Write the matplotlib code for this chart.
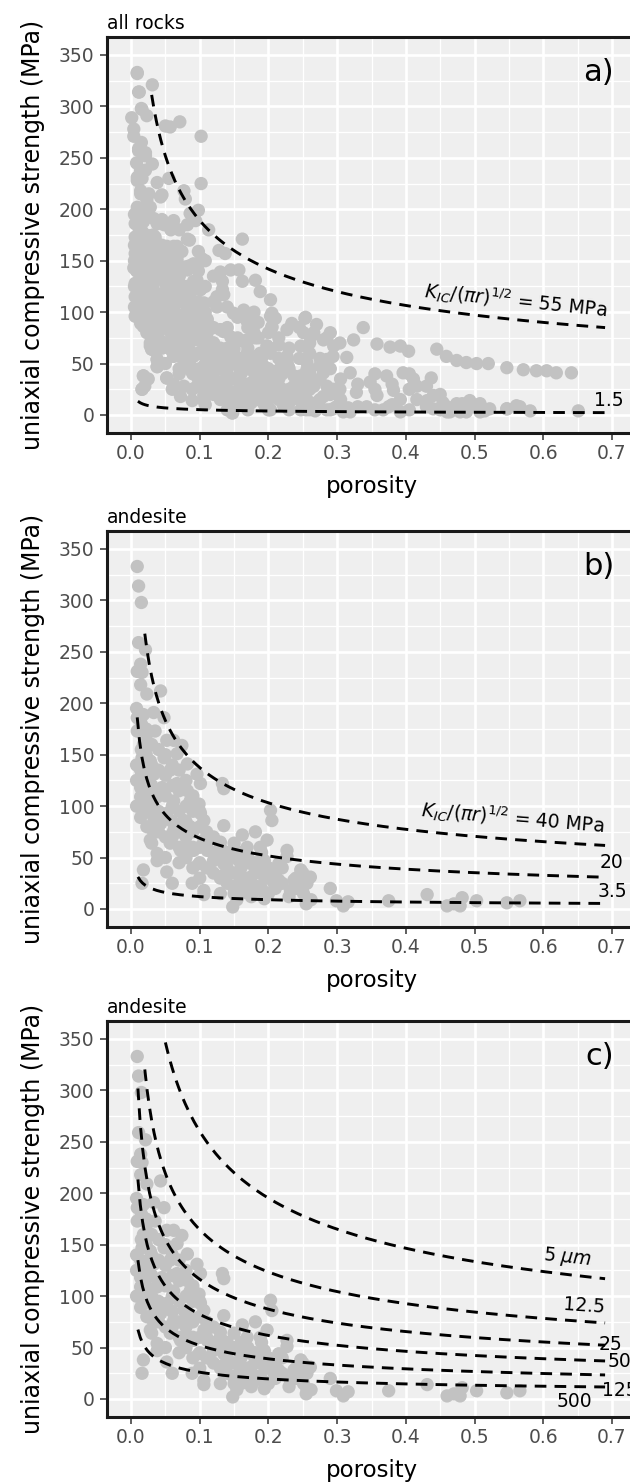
import numpy as np
import matplotlib.pyplot as plt

plt.rcParams['font.family'] = ['DejaVu Sans', 'Noto Sans']

# andesite samples: porosity and uniaxial compressive strength (MPa)
andesite_por = [0.009, 0.011, 0.015, 0.011, 0.021, 0.014, 0.009, 0.016, 0.014, 0.023,
                0.043, 0.009, 0.018, 0.033, 0.048, 0.009, 0.023, 0.035, 0.052, 0.062,
                0.074, 0.018, 0.016, 0.028, 0.048, 0.067, 0.082, 0.014, 0.033, 0.057,
                0.096, 0.014, 0.028, 0.045, 0.067, 0.082, 0.101, 0.014, 0.038, 0.062,
                0.086, 0.099, 0.133, 0.135, 0.014, 0.033, 0.052, 0.077, 0.101, 0.106,
                0.023, 0.043, 0.062, 0.086, 0.028, 0.030, 0.057, 0.082, 0.106, 0.135,
                0.162, 0.181, 0.203, 0.205, 0.198, 0.038, 0.038, 0.072, 0.091, 0.111,
                0.130, 0.150, 0.169, 0.188, 0.227, 0.227, 0.099, 0.120, 0.135, 0.157,
                0.175, 0.194, 0.215, 0.247, 0.261, 0.135, 0.157, 0.175, 0.194, 0.215,
                0.237, 0.256, 0.157, 0.183, 0.208, 0.232, 0.251, 0.256, 0.089, 0.106,
                0.106, 0.150, 0.148, 0.154, 0.175, 0.194, 0.230, 0.060, 0.052, 0.018,
                0.016, 0.290, 0.299, 0.309, 0.316, 0.375, 0.431, 0.460, 0.470, 0.482,
                0.479, 0.503, 0.547, 0.566, 0.255, 0.262,
                0.008, 0.008, 0.008, 0.008, 0.015, 0.015, 0.015, 0.015, 0.022, 0.022,
                0.022, 0.022, 0.022, 0.030, 0.030, 0.030, 0.030, 0.030, 0.040, 0.040,
                0.040, 0.040, 0.040, 0.050, 0.050, 0.050, 0.050, 0.050, 0.050, 0.060,
                0.060, 0.060, 0.060, 0.060, 0.070, 0.070, 0.070, 0.070, 0.070, 0.070,
                0.080, 0.080, 0.080, 0.080, 0.080, 0.090, 0.090, 0.090, 0.090, 0.090,
                0.100, 0.100, 0.100, 0.100, 0.100, 0.110, 0.110, 0.110, 0.120, 0.120,
                0.120, 0.130, 0.130, 0.130, 0.130, 0.140, 0.140, 0.140, 0.150, 0.150,
                0.150, 0.160, 0.160, 0.160, 0.170, 0.170, 0.170, 0.180, 0.180, 0.180,
                0.190, 0.190, 0.190, 0.200, 0.200, 0.200, 0.210, 0.210, 0.220, 0.220,
                0.240, 0.240, 0.250, 0.250]
andesite_ucs = [333, 314, 298, 259, 252, 238, 231, 230, 218, 209,
                212, 186, 189, 191, 186, 173, 170, 173, 164, 164,
                159, 160, 147, 144, 147, 151, 141, 135, 131, 135,
                131, 118, 122, 118, 122, 115, 122, 109, 109, 105,
                105, 102, 122, 117, 89, 89, 93, 86, 93, 86,
                80, 83, 76, 80, 67, 64, 64, 60, 67, 81,
                72, 75, 96, 86, 67, 54, 47, 57, 57, 57,
                60, 64, 60, 60, 57, 51, 44, 47, 44, 47,
                44, 47, 44, 38, 31, 33, 35, 31, 31, 28,
                28, 25, 25, 22, 25, 18, 15, 9, 25, 18,
                14, 15, 2, 9, 12, 10, 12, 25, 36, 38,
                25, 20, 8, 3, 7, 8, 14, 3, 5, 11,
                3, 8, 6, 8, 5, 9,
                195, 140, 125, 100, 180, 155, 125, 100, 175, 150,
                130, 110, 95, 160, 140, 120, 100, 78, 155, 135,
                115, 95, 75, 150, 130, 110, 90, 70, 50, 140,
                120, 100, 85, 70, 135, 115, 95, 75, 60, 45,
                125, 100, 85, 70, 50, 110, 95, 75, 60, 40,
                95, 80, 60, 45, 30, 75, 60, 40, 70, 55,
                35, 65, 50, 30, 15, 55, 40, 25, 50, 35,
                20, 55, 40, 15, 50, 30, 20, 45, 35, 18,
                55, 38, 20, 40, 30, 15, 35, 20, 40, 25,
                30, 20, 35, 22]

# other rock types (all rocks = andesite + these)
other_por = [0.009, 0.031, 0.012, 0.016, 0.001, 0.023, 0.004, 0.004, 0.050, 0.057,
             0.071, 0.102, 0.011, 0.021, 0.031, 0.014, 0.009, 0.021, 0.038, 0.055,
             0.102, 0.014, 0.026, 0.045, 0.077, 0.009, 0.028, 0.079, 0.098, 0.086,
             0.113, 0.162, 0.006, 0.018, 0.038, 0.048, 0.062, 0.082, 0.094, 0.082,
             0.006, 0.021, 0.035, 0.006, 0.023, 0.048, 0.067, 0.098, 0.103, 0.128,
             0.137, 0.004, 0.023, 0.043, 0.062, 0.079, 0.091, 0.130, 0.145, 0.157,
             0.006, 0.028, 0.050, 0.069, 0.091, 0.101, 0.133, 0.162, 0.181, 0.188,
             0.006, 0.026, 0.048, 0.067, 0.086, 0.106, 0.125, 0.125, 0.203, 0.006,
             0.023, 0.043, 0.065, 0.086, 0.111, 0.149, 0.164, 0.179, 0.205, 0.210,
             0.254, 0.018, 0.038, 0.062, 0.086, 0.111, 0.130, 0.169, 0.205, 0.227,
             0.234, 0.251, 0.266, 0.028, 0.030, 0.050, 0.072, 0.096, 0.120, 0.145,
             0.169, 0.179, 0.198, 0.215, 0.247, 0.280, 0.295, 0.038, 0.038, 0.062,
             0.086, 0.111, 0.135, 0.159, 0.183, 0.203, 0.227, 0.229, 0.256, 0.285,
             0.086, 0.111, 0.135, 0.159, 0.183, 0.208, 0.237, 0.256, 0.280, 0.018,
             0.016, 0.052, 0.062, 0.077, 0.096, 0.106, 0.130, 0.140, 0.147, 0.159,
             0.179, 0.198, 0.217, 0.193, 0.203, 0.222, 0.242, 0.256, 0.266, 0.280,
             0.295, 0.285, 0.247, 0.268, 0.232, 0.120, 0.072, 0.089,
             0.253, 0.338, 0.265, 0.285, 0.304, 0.324, 0.358, 0.377, 0.392, 0.404,
             0.445, 0.459, 0.474, 0.488, 0.503, 0.520, 0.547, 0.571, 0.590, 0.605,
             0.619, 0.641, 0.260, 0.275, 0.294, 0.314, 0.319, 0.348, 0.372, 0.396,
             0.411, 0.437, 0.416, 0.255, 0.285, 0.304, 0.328, 0.358, 0.382, 0.392,
             0.440, 0.416, 0.454, 0.474, 0.493, 0.508, 0.522, 0.547, 0.561, 0.581,
             0.651, 0.270, 0.294, 0.319, 0.343, 0.367, 0.392, 0.440, 0.464, 0.488,
             0.508,
             0.005, 0.005, 0.005, 0.005, 0.005, 0.012, 0.012, 0.012, 0.012, 0.012,
             0.012, 0.020, 0.020, 0.020, 0.020, 0.020, 0.008, 0.015, 0.032, 0.032,
             0.032, 0.032, 0.032, 0.045, 0.045, 0.045, 0.045, 0.045, 0.045, 0.058,
             0.058, 0.058, 0.058, 0.058, 0.070, 0.070, 0.070, 0.070, 0.070, 0.070,
             0.070, 0.085, 0.085, 0.085, 0.085, 0.085, 0.085, 0.098, 0.098, 0.098,
             0.098, 0.098, 0.108, 0.108, 0.108, 0.108, 0.108, 0.108, 0.108, 0.120,
             0.120, 0.120, 0.120, 0.120, 0.120, 0.140, 0.140, 0.140, 0.140, 0.140,
             0.140, 0.155, 0.155, 0.155, 0.155, 0.155, 0.170, 0.170, 0.170, 0.170,
             0.170, 0.185, 0.185, 0.185, 0.185, 0.185, 0.200, 0.200, 0.200, 0.200,
             0.200, 0.215, 0.215, 0.215, 0.215, 0.230, 0.230, 0.230, 0.230, 0.245,
             0.245, 0.245, 0.260, 0.260, 0.260, 0.260, 0.275, 0.275, 0.275, 0.290,
             0.290, 0.290, 0.305, 0.305, 0.330, 0.330, 0.355, 0.355, 0.355, 0.380,
             0.380, 0.405, 0.405, 0.405, 0.430, 0.430, 0.450, 0.450, 0.460, 0.480,
             0.500, 0.515, 0.245, 0.260, 0.270, 0.290, 0.020, 0.025]
other_ucs = [332, 321, 314, 297, 289, 291, 278, 271, 281, 280,
             285, 271, 257, 255, 244, 234, 228, 238, 226, 230,
             225, 215, 215, 214, 218, 202, 202, 210, 199, 196,
             180, 171, 186, 188, 186, 185, 189, 185, 189, 171,
             173, 175, 170, 157, 160, 162, 164, 159, 152, 160,
             157, 143, 144, 147, 144, 144, 147, 139, 141, 141,
             128, 130, 128, 126, 130, 122, 130, 130, 131, 120,
             115, 114, 115, 112, 115, 109, 115, 105, 112, 96,
             99, 99, 99, 96, 93, 99, 102, 100, 99, 94,
             95, 86, 83, 86, 83, 80, 83, 91, 85, 83,
             89, 80, 80, 70, 64, 70, 67, 73, 70, 76,
             73, 80, 67, 68, 67, 73, 67, 54, 47, 57,
             54, 57, 59, 54, 57, 60, 54, 47, 51, 54,
             44, 41, 44, 41, 44, 41, 38, 44, 41, 38,
             25, 36, 30, 28, 28, 20, 18, 15, 2, 28,
             25, 28, 25, 15, 5, 9, 25, 15, 28, 18,
             25, 5, 5, 4, 14, 28, 18, 14,
             94, 85, 78, 75, 70, 73, 69, 66, 67, 62,
             64, 57, 53, 51, 50, 50, 46, 44, 43, 43,
             41, 41, 41, 48, 57, 56, 41, 32, 38, 41,
             35, 36, 28, 28, 28, 25, 22, 19, 24, 15,
             19, 15, 12, 11, 14, 11, 6, 6, 9, 4,
             4, 12, 6, 3, 8, 5, 3, 6, 3, 3,
             3,
             105, 125, 150, 165, 195, 100, 120, 140, 160, 180,
             200, 110, 130, 150, 165, 195, 245, 265, 75, 100,
             125, 150, 175, 65, 90, 115, 140, 165, 190, 80,
             105, 130, 155, 180, 40, 60, 85, 110, 135, 160,
             180, 50, 70, 95, 120, 145, 170, 35, 60, 85,
             110, 140, 10, 30, 50, 70, 100, 125, 150, 20,
             40, 60, 85, 110, 135, 5, 25, 45, 65, 85,
             105, 15, 35, 55, 75, 95, 5, 25, 45, 65,
             85, 15, 35, 55, 75, 90, 5, 25, 45, 65,
             80, 15, 35, 55, 75, 5, 25, 45, 65, 15,
             35, 55, 5, 25, 45, 60, 15, 35, 55, 5,
             25, 45, 15, 35, 8, 30, 5, 25, 40, 10,
             30, 5, 25, 40, 8, 28, 5, 20, 8, 6,
             9, 4, 85, 70, 88, 80, 28, 35]

# model curves: UCS = 1.325 * [K_IC/(pi r)^1/2] / porosity^0.414
kr_a = [55, 1.5]
start_a = [0.03, 0.01]
kr_b = [40, 20, 3.5]
start_b = [0.02, 0.009, 0.01]
k_ic = 0.3  # MPa m^1/2
radius_c = [5, 12.5, 25, 50, 125, 500]  # micrometre
start_c = [0.05, 0.02, 0.01, 0.01, 0.01, 0.01]
por_end = 0.69

xticks = [0.0, 0.1, 0.2, 0.3, 0.4, 0.5, 0.6, 0.7]
xtick_labels = ['0.0', '0.1', '0.2', '0.3', '0.4', '0.5', '0.6', '0.7']
yticks = [0, 50, 100, 150, 200, 250, 300, 350]


def ucs_curve(kr, p0):
    p = np.linspace(p0, por_end, 200)
    return p, 1.325 * kr / p ** 0.414


def base_panel(ax, title, letter):
    ax.set_facecolor('#EFEFEF')
    ax.set_xlim(-0.035, 0.735)
    ax.set_ylim(-17.5, 367.5)
    ax.set_xticks(xticks)
    ax.set_xticklabels(xtick_labels)
    ax.set_yticks(yticks)
    ax.set_xticks(np.arange(0.05, 0.75, 0.1), minor=True)
    ax.set_yticks(np.arange(25, 375, 50), minor=True)
    ax.grid(which='major', color='white', lw=1.9)
    ax.grid(which='minor', color='white', lw=0.9)
    ax.set_axisbelow(True)
    ax.tick_params(which='minor', length=0)
    ax.tick_params(which='major', length=5, width=1.1, color='#333333',
                   labelcolor='#4D4D4D', labelsize=13.5)
    ax.tick_params(axis='x', pad=3)
    ax.tick_params(axis='y', pad=4)
    for sp in ax.spines.values():
        sp.set_linewidth(2.2)
        sp.set_color('#1A1A1A')
    ax.set_xlabel('porosity', fontsize=16.5)
    ax.set_ylabel('uniaxial compressive strength (MPa)', fontsize=17)
    ax.xaxis.set_label_coords(0.5, -0.105)
    ax.yaxis.set_label_coords(-0.118, 0.5)
    ax.set_title(title, loc='left', fontsize=13.5, pad=6)
    ax.text(0.703, 325, letter, ha='right', va='baseline', fontsize=22)


fig = plt.figure(figsize=(6.3, 14.83), dpi=100)
left = 107 / 630
width = 529 / 630
height = 396 / 1483
ax_a = fig.add_axes([left, 1 - 433 / 1483, width, height])
ax_b = fig.add_axes([left, 1 - 927 / 1483, width, height])
ax_c = fig.add_axes([left, 1 - 1417 / 1483, width, height])

dash = dict(color='black', lw=2.1, ls=(0, (4.0, 2.8)))
pt = dict(s=92, color='#C2C2C2', edgecolors='none', zorder=2)

# a) all rocks
base_panel(ax_a, 'all rocks', 'a)')
ax_a.scatter(andesite_por + other_por, andesite_ucs + other_ucs, **pt)
for kr, p0 in zip(kr_a, start_a):
    x, y = ucs_curve(kr, p0)
    ax_a.plot(x, y, zorder=3, **dash)
ax_a.text(0.560, 112, r'$K_{IC}/(\pi r)^{1/2}$ = 55 MPa', rotation=-6,
          ha='center', va='center', fontsize=13.5)
ax_a.text(0.696, 14, '1.5', ha='center', va='center', fontsize=13.5)

# b) andesite
base_panel(ax_b, 'andesite', 'b)')
ax_b.scatter(andesite_por, andesite_ucs, **pt)
for kr, p0 in zip(kr_b, start_b):
    x, y = ucs_curve(kr, p0)
    ax_b.plot(x, y, zorder=3, **dash)
ax_b.text(0.555, 89, r'$K_{IC}/(\pi r)^{1/2}$ = 40 MPa', rotation=-5,
          ha='center', va='center', fontsize=13.5)
ax_b.text(0.70, 45, '20', ha='center', va='center', fontsize=13.5)
ax_b.text(0.70, 17, '3.5', ha='center', va='center', fontsize=13.5)

# c) andesite, crack radius
base_panel(ax_c, 'andesite', 'c)')
ax_c.scatter(andesite_por, andesite_ucs, **pt)
for r, p0 in zip(radius_c, start_c):
    kr = k_ic / np.sqrt(np.pi * r * 1e-6)
    x, y = ucs_curve(kr, p0)
    ax_c.plot(x, y, zorder=3, **dash)
ax_c.text(0.635, 137, r'5 $\mu m$', rotation=-6, ha='center', va='center', fontsize=13.5)
ax_c.text(0.659, 90, '12.5', rotation=-4, ha='center', va='center', fontsize=13.5)
ax_c.text(0.680, 53, '25', ha='left', va='center', fontsize=13.5)
ax_c.text(0.693, 36, '50', ha='left', va='center', fontsize=13.5)
ax_c.text(0.686, 8, '125', ha='left', va='center', fontsize=13.5)
ax_c.text(0.645, -2, '500', ha='center', va='center', fontsize=13.5)

fig.savefig('out.png', dpi=100)
